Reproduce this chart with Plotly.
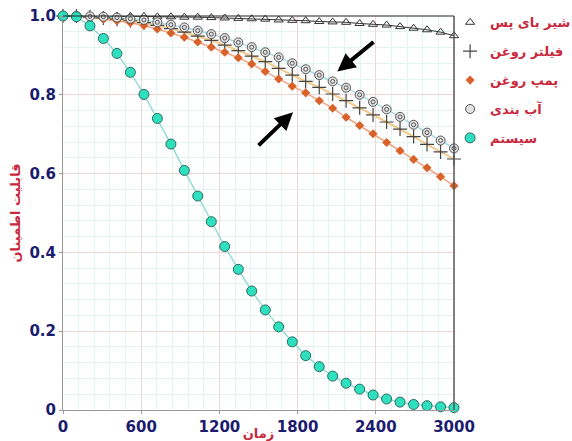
import plotly.graph_objects as go

times = [0, 103, 207, 310, 414, 517, 621, 724, 828, 931, 1034, 1138, 1241, 1345, 1448,
         1552, 1655, 1759, 1862, 1966, 2069, 2172, 2276, 2379, 2483, 2586, 2690, 2793, 2897, 3000]

bypass_valve = [1.0, 1.0, 0.9999, 0.9998, 0.9997, 0.9995, 0.999, 0.998, 0.998, 0.997, 0.997,
                0.996, 0.995, 0.994, 0.993, 0.992, 0.990, 0.989, 0.988, 0.986, 0.985, 0.984,
                0.981, 0.979, 0.977, 0.973, 0.969, 0.965, 0.959, 0.950]
oil_filter = [1.0, 1.0, 0.998, 0.995, 0.992, 0.988, 0.983, 0.976, 0.968, 0.959, 0.949, 0.938,
              0.926, 0.912, 0.898, 0.884, 0.867, 0.850, 0.834, 0.819, 0.802, 0.785, 0.767,
              0.749, 0.731, 0.713, 0.694, 0.674, 0.655, 0.637]
oil_pump = [1.0, 0.999, 0.996, 0.992, 0.988, 0.983, 0.976, 0.967, 0.957, 0.946, 0.934, 0.921,
            0.908, 0.894, 0.878, 0.859, 0.840, 0.822, 0.805, 0.785, 0.766, 0.743, 0.722,
            0.701, 0.679, 0.658, 0.636, 0.615, 0.592, 0.569]
sealing = [1.0, 1.0, 0.999, 0.998, 0.996, 0.993, 0.990, 0.984, 0.978, 0.971, 0.963, 0.954,
           0.944, 0.933, 0.921, 0.908, 0.895, 0.880, 0.865, 0.850, 0.834, 0.818, 0.800,
           0.782, 0.763, 0.744, 0.724, 0.704, 0.684, 0.664]
system = [1.0, 0.998, 0.975, 0.943, 0.905, 0.857, 0.801, 0.740, 0.675, 0.608, 0.543, 0.478,
          0.415, 0.357, 0.302, 0.254, 0.211, 0.173, 0.138, 0.110, 0.086, 0.068, 0.053,
          0.038, 0.028, 0.020, 0.014, 0.011, 0.008, 0.006]

names = ["شیر بای پس", "فیلتر روغن", "پمپ روغن", "آب بندی", "سیستم"]
x_ticks = [0, 600, 1200, 1800, 2400, 3000]
y_ticks = [0, 0.2, 0.4, 0.6, 0.8, 1.0]
y_tick_text = ["0", "0.2", "0.4", "0.6", "0.8", "1.0"]

fig = go.Figure()

# connecting lines (not in legend)
line_styles = [
    (bypass_valve, "#333333", 1),
    (oil_filter, "#f2c98a", 2),
    (oil_pump, "#f0a685", 1.5),
    (sealing, "#a6dce6", 1.5),
    (system, "#95dcd6", 1.5),
]
for vals, col, w in line_styles:
    fig.add_trace(go.Scatter(x=times, y=vals, mode="lines", showlegend=False,
                             line=dict(color=col, width=w), hoverinfo="skip", cliponaxis=False))

marker_styles = [
    (bypass_valve, dict(symbol="triangle-up-open", size=8, color="#333333", line=dict(width=1, color="#333333"))),
    (oil_filter, dict(symbol="cross-thin-open", size=10, color="#444444", line=dict(width=1.2, color="#444444"))),
    (oil_pump, dict(symbol="diamond", size=7, color="#d9622b", line=dict(width=0))),
    (sealing, dict(symbol="circle", size=9, color="#e2e2e2", line=dict(width=1, color="#555555"))),
    (system, dict(symbol="circle", size=10, color="#2fe0bf", line=dict(width=1, color="#2b6b62"))),
]
for i, (vals, mk) in enumerate(marker_styles):
    fig.add_trace(go.Scatter(x=times, y=vals, mode="markers", name=names[i], marker=mk,
                             legendgroup=f"g{i}", cliponaxis=False))
    if i == 3:
        fig.add_trace(go.Scatter(x=times, y=vals, mode="markers", showlegend=False,
                                 marker=dict(symbol="circle-open", size=4, color="#555555",
                                             line=dict(width=1, color="#555555")),
                                 legendgroup=f"g{i}", cliponaxis=False, hoverinfo="skip"))

tick_font = dict(family="DejaVu Sans", size=15, color="#1c1c6e", weight=700)
title_font = dict(family="DejaVu Sans", size=13, color="#c8283c", weight=700)

fig.update_xaxes(range=[0, 3000], tickvals=x_ticks, tickfont=tick_font,
                 showgrid=True, gridcolor="#eed6d6", gridwidth=1,
                 minor=dict(dtick=120, showgrid=True, gridcolor="#e3f3ef", ticks=""),
                 showline=True, linecolor="#999999", linewidth=1, zeroline=False,
                 ticks="outside", ticklen=3, tickcolor="#999999",
                 title=dict(text="زمان", font=title_font, standoff=2))
fig.update_yaxes(range=[0, 1], tickvals=y_ticks, ticktext=y_tick_text, tickfont=tick_font,
                 showgrid=True, gridcolor="#eed6d6", gridwidth=1,
                 minor=dict(dtick=0.04, showgrid=True, gridcolor="#e3f3ef", ticks=""),
                 showline=True, linecolor="#999999", linewidth=1, zeroline=False,
                 ticks="outside", ticklen=3, tickcolor="#999999",
                 title=dict(text="قابلیت اطمینان", font=title_font, standoff=5))

# top and right frame
fig.add_shape(type="line", xref="paper", yref="paper", x0=0, x1=1, y0=1, y1=1,
              line=dict(color="#222222", width=1))
fig.add_shape(type="line", xref="paper", yref="paper", x0=1, x1=1, y0=0, y1=1,
              line=dict(color="#555555", width=1.5))

# arrows
fig.add_annotation(x=2105, y=0.859, ax=2394, ay=0.937, xref="x", yref="y", axref="x", ayref="y",
                   showarrow=True, arrowhead=2, arrowsize=0.9, arrowwidth=4, arrowcolor="#000000", text="")
fig.add_annotation(x=1765, y=0.756, ax=1489, ay=0.668, xref="x", yref="y", axref="x", ayref="y",
                   showarrow=True, arrowhead=2, arrowsize=0.9, arrowwidth=4, arrowcolor="#000000", text="")

fig.update_layout(
    width=572, height=441,
    margin=dict(l=63, r=118, t=16, b=31, autoexpand=False),
    paper_bgcolor="white", plot_bgcolor="white",
    showlegend=True,
    legend=dict(x=0.99, y=1.022, xanchor="left", yanchor="top",
                font=dict(family="DejaVu Sans", size=13, color="#c8283c", weight=700),
                tracegroupgap=9, bgcolor="rgba(0,0,0,0)"),
)

fig.write_html("out.html", config={"displayModeBar": False},
               post_script="document.body.style.margin='0';document.body.style.overflow='hidden';")
